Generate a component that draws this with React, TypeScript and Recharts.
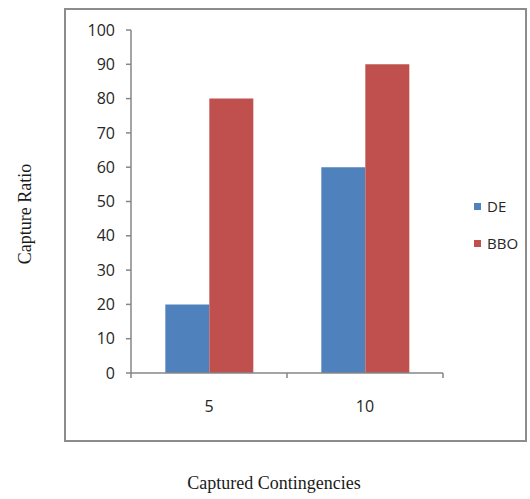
import React from 'react'
import { BarChart, Bar, XAxis, YAxis, Legend } from 'recharts'

const categories = ['5', '10']
const deValues = [20, 60]
const bboValues = [80, 90]
const yTicks = [0, 10, 20, 30, 40, 50, 60, 70, 80, 90, 100]

const seriesInfo = [
	{ key: 'DE', color: '#4F81BD' },
	{ key: 'BBO', color: '#C0504D' },
]

const data = categories.map((c, i) => ({ cat: c, DE: deValues[i], BBO: bboValues[i] }))

const SANS = '"Open Sans", "DejaVu Sans", sans-serif'
const SERIF = '"Liberation Serif", "DejaVu Serif", serif'
const AXIS_COLOR = '#868686'
const TEXT_COLOR = '#262626'

// x tick: label under the category plus small marks on the band edges
const CategoryTick = (props: any) => {
	const { x, y, payload, index } = props
	const half = payload && payload.offset ? payload.offset : 78
	return (
		<g>
			<line x1={x - half} x2={x - half} y1={y} y2={y + 5} stroke={AXIS_COLOR} strokeWidth={1.5} />
			{index === categories.length - 1 && (
				<line x1={x + half} x2={x + half} y1={y} y2={y + 5} stroke={AXIS_COLOR} strokeWidth={1.5} />
			)}
			<text x={x} y={y + 39} textAnchor="middle" fontFamily={SANS} fontSize={16} fill={TEXT_COLOR}>
				{payload.value}
			</text>
		</g>
	)
}

const YTitle = (props: any) => {
	const cx = 25
	const cy = 214
	return (
		<text x={cx} y={cy} transform={`rotate(-90 ${cx} ${cy})`} textAnchor="middle" dominantBaseline="central"
			fontFamily={SERIF} fontSize={18} fill="#1a1a1a">
			Capture Ratio
		</text>
	)
}

const XTitle = (props: any) => (
	<text x={274} y={489} textAnchor="middle" fontFamily={SERIF} fontSize={18} fill="#1a1a1a">
		Captured Contingencies
	</text>
)

const LegendBox = () => (
	<div style={{ fontFamily: SANS, fontSize: 15, color: TEXT_COLOR }}>
		{seriesInfo.map((s, i) => (
			<div key={s.key} style={{ display: 'flex', alignItems: 'center', height: 20, marginBottom: i === 0 ? 17 : 0 }}>
				<span style={{ display: 'inline-block', width: 7, height: 7, background: s.color, marginRight: 6 }} />
				<span>{s.key}</span>
			</div>
		))}
	</div>
)

export default function App() {
	return (
		<div style={{ position: 'absolute', left: 0, top: 0, width: 530, height: 499, background: '#fff' }}>
			<div style={{
				position: 'absolute', left: 64, top: 8, width: 463, height: 434,
				border: '2px solid #8c8c8c', boxSizing: 'border-box', pointerEvents: 'none'
			}} />
			<BarChart
				width={530}
				height={499}
				data={data}
				margin={{ top: 30, right: 87, left: 81, bottom: 96 }}
				barCategoryGap="22%"
				barGap={0}
			>
				<XAxis
					dataKey="cat"
					type="category"
					height={30}
					stroke={AXIS_COLOR}
					strokeWidth={1.5}
					tickLine={false}
					tickSize={0}
					tickMargin={0}
					interval={0}
					tick={<CategoryTick />}
					label={<XTitle />}
				/>
				<YAxis
					type="number"
					domain={[0, 100]}
					ticks={yTicks}
					interval={0}
					width={50}
					stroke={AXIS_COLOR}
					strokeWidth={1.5}
					tickSize={5}
					tickMargin={11}
					tick={{ fontFamily: SANS, fontSize: 16, fill: TEXT_COLOR }}
					label={<YTitle />}
				/>
				<Legend
					layout="horizontal"
					verticalAlign="middle"
					align="center"
					content={<LegendBox />}
					wrapperStyle={{ position: 'absolute', left: 474, top: 196, width: 60 }}
				/>
				{seriesInfo.map((s) => (
					<Bar key={s.key} dataKey={s.key} fill={s.color} isAnimationActive={false} />
				))}
			</BarChart>
		</div>
	)
}
